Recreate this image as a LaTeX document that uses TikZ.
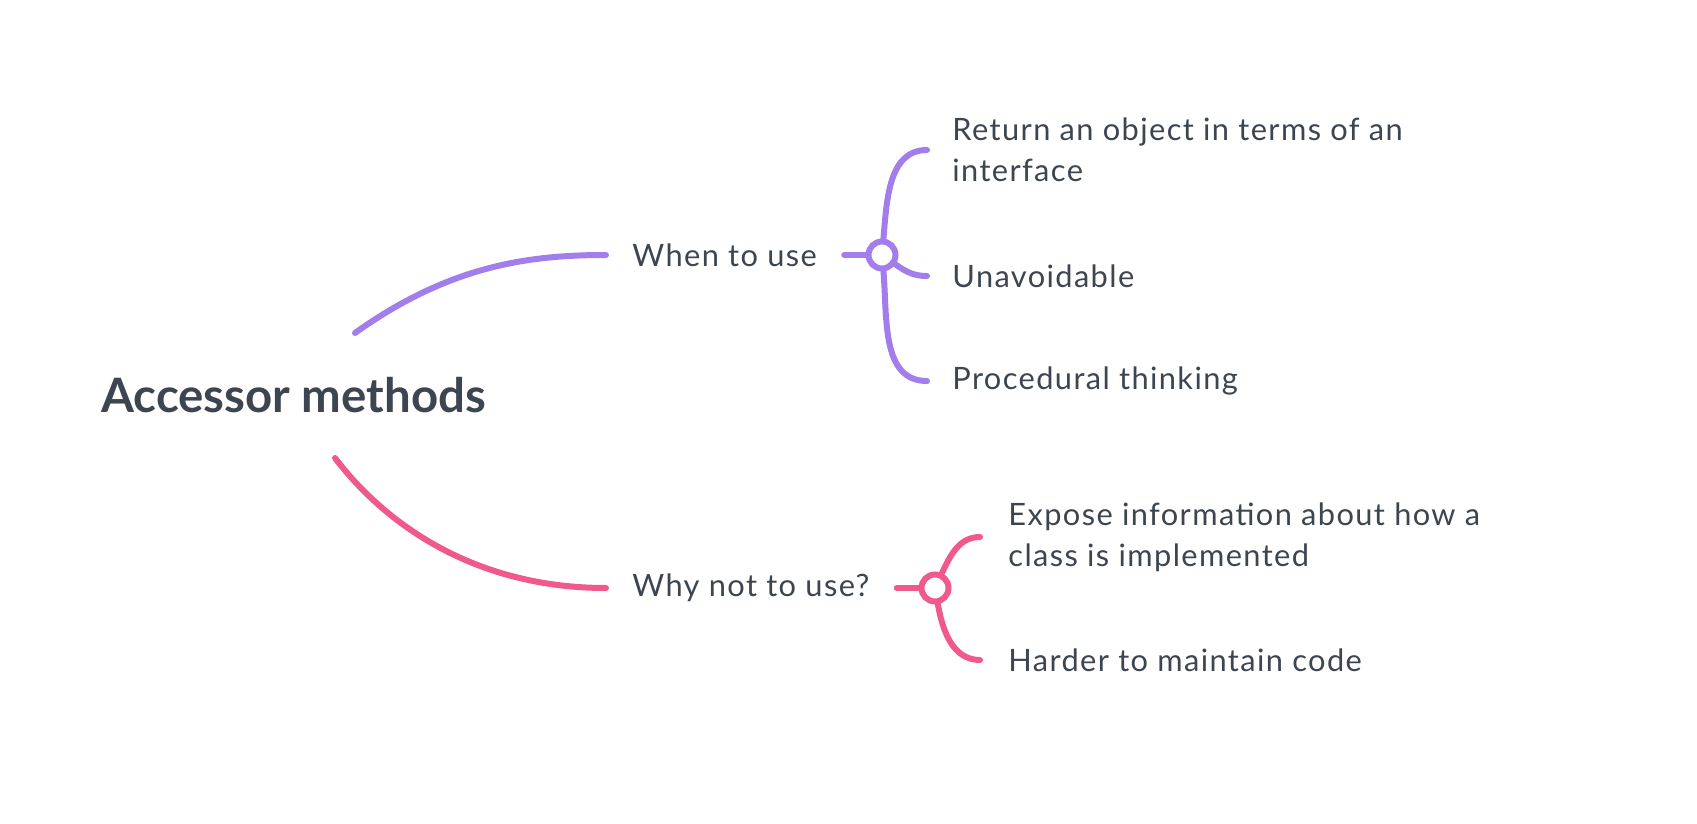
\documentclass[tikz,border=0pt]{standalone}
\usepackage{fontspec}
\setmainfont{Lato}
\newfontfamily\topicfont[LetterSpace=4.5]{Lato}
\definecolor{branchpurple}{HTML}{A27EEC}
\definecolor{branchpink}{HTML}{F0598C}
\definecolor{inkgray}{HTML}{3D4550}
\begin{document}
\begin{tikzpicture}[x=0.5pt,y=-0.5pt,
    topic/.style={anchor=west,inner sep=0pt,text=inkgray,align=left,font=\topicfont\fontsize{15.4}{20.5}\selectfont},
    roottopic/.style={anchor=west,inner sep=0pt,text=inkgray,font=\fontsize{23.7}{28}\selectfont\bfseries},
    branch/.style={line width=3pt,line cap=round},
    hub/.style={circle,draw,fill=white,line width=3pt,inner sep=0pt,minimum size=13.5pt}]
        \useasboundingbox (0,0) rectangle (1697,824);
        % central topic
        \node[roottopic] (root) at (101,395) {Accessor methods};
        \coordinate (rootup) at (355,333);
        \coordinate (rootdown) at (335,458);
        % when to use
        \node[topic] (whenuse) at (632,255) {When to use};
        \node[hub,draw=branchpurple] (whenhub) at (882,255) {};
        \node[topic] (returnobj) at (952,150) {Return an object in terms of an\\interface};
        \node[topic] (unavoid) at (952,276) {Unavoidable};
        \node[topic] (procedural) at (952,381) {Procedural thinking};
        \draw[branch,branchpurple] (rootup) .. controls +(95,-68) and +(-76,0) .. ([xshift=-13pt]whenuse.west);
        \draw[branch,branchpurple] ([xshift=13.5pt]whenuse.east) -- (whenhub);
        \draw[branch,branchpurple] (whenhub) to[out=85,in=180] ([xshift=-12.5pt]returnobj.west);
        \draw[branch,branchpurple] (whenhub) to[out=-35,in=180] ([xshift=-12.5pt]unavoid.west);
        \draw[branch,branchpurple] (whenhub) to[out=-85,in=180] ([xshift=-12.5pt]procedural.west);
        % why not to use
        \node[topic] (whynot) at (632,588) {Why not to use?};
        \node[hub,draw=branchpink] (whyhub) at (935,588) {};
        \node[topic] (expose) at (1008,537) {Expose information about how a\\class is implemented};
        \node[topic] (harder) at (1008,660) {Harder to maintain code};
        \draw[branch,branchpink] (rootdown) .. controls +(55,72) and +(-125,0) .. ([xshift=-13pt]whynot.west);
        \draw[branch,branchpink] ([xshift=13.5pt]whynot.east) -- (whyhub);
        \draw[branch,branchpink] (whyhub) to[out=65,in=180] ([xshift=-14pt]expose.west);
        \draw[branch,branchpink] (whyhub) to[out=-80,in=180] ([xshift=-14pt]harder.west);
\end{tikzpicture}
\end{document}
